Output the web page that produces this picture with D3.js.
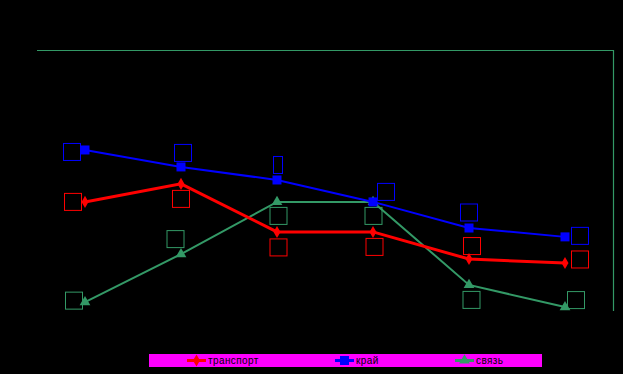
<!DOCTYPE html>
<html>
<head>
<meta charset="utf-8">
<script src="https://cdn.jsdelivr.net/npm/d3@7"></script>
<style>
  html, body { margin: 0; padding: 0; background: #000; }
  svg { display: block; }
</style>
</head>
<body>
<svg width="623" height="374"></svg>
<script>
// categories (not labelled on the chart)
const periods = ["1", "2", "3", "4", "5", "6"];

// series values (arbitrary 0..10 scale)
const transport = [4.18, 4.87, 3.03, 3.03, 1.99, 1.84];
const krai      = [6.17, 5.52, 5.02, 4.18, 3.18, 2.84];
const svyaz     = [0.34, 2.18, 4.18, 4.18, 1.00, 0.15];

const seriesNames = ["транспорт", "край", "связь"];

// label box offsets from each point (empty data label frames)
const labelOffsets = [
    [[-12, 0], [0, 15], [1.5, 15.5], [1.5, 15], [3, -13], [15, -3.5]],
    [[-13, 2], [2, -14], [1, -15], [13, -10], [0, -15.5], [15, -1]],
    [[-11, -1.5], [-5.5, -15], [1.5, 14], [0.5, 14], [2.5, 15], [11, -7]]
];

document.addEventListener("DOMContentLoaded", function() {
    const svg = d3.select("svg");
    const left = 37, right = 613, top = 50, bottom = 311;

    const x = d3.scaleBand().domain(periods).range([left, right]);
    const y = d3.scaleLinear().domain([0, 10]).range([bottom, top]);
    const cx = d => x(d) + x.bandwidth() / 2;

    const series = [
        { name: seriesNames[0], values: transport, color: "#ff0000", width: 3, symbol: d3.symbolDiamond, size: 42 },
        { name: seriesNames[1], values: krai, color: "#0000ff", width: 2, symbol: d3.symbolSquare, size: 81 },
        { name: seriesNames[2], values: svyaz, color: "#339966", width: 2, symbol: d3.symbolTriangle, size: 50 }
    ];

    // plot frame: only top and right edges are visible
    svg.append("path")
        .attr("d", `M${left},${top + 0.5}H${right + 0.5}V${bottom}`)
        .attr("fill", "none")
        .attr("stroke", "#339966")
        .attr("stroke-width", 1.2);

    const line = d3.line()
        .x((d, i) => cx(periods[i]))
        .y(d => y(d));

    // draw green first so red and blue sit on top like the original
    const order = [2, 0, 1];
    order.forEach(k => {
        const s = series[k];
        svg.append("path")
            .datum(s.values)
            .attr("d", line)
            .attr("fill", "none")
            .attr("stroke", s.color)
            .attr("stroke-width", s.width);

        svg.selectAll(null)
            .data(s.values)
            .enter()
            .append("path")
            .attr("transform", (d, i) => `translate(${cx(periods[i])},${y(d)})`)
            .attr("d", d3.symbol().type(s.symbol).size(s.size))
            .attr("fill", s.color);

        // empty label frames
        svg.selectAll(null)
            .data(s.values)
            .enter()
            .append("rect")
            .attr("x", (d, i) => {
                const w = (k === 1 && i === 2) ? 9 : 17;
                return cx(periods[i]) + labelOffsets[k][i][0] - w / 2;
            })
            .attr("y", (d, i) => y(d) + labelOffsets[k][i][1] - 8.5)
            .attr("width", (d, i) => (k === 1 && i === 2) ? 9 : 17)
            .attr("height", 17)
            .attr("fill", "none")
            .attr("stroke", s.color)
            .attr("stroke-width", 1);
    });

    // legend
    const legend = svg.append("g");
    legend.append("rect")
        .attr("x", 149).attr("y", 354)
        .attr("width", 393).attr("height", 13)
        .attr("fill", "#ff00ff");

    const legendX = [187, 335, 455];
    series.forEach((s, i) => {
        const g = legend.append("g").attr("transform", `translate(${legendX[i]},360.5)`);
        g.append("line")
            .attr("x1", 0).attr("x2", 19)
            .attr("stroke", s.color)
            .attr("stroke-width", 3);
        g.append("path")
            .attr("transform", "translate(9.5,0)")
            .attr("d", d3.symbol().type(s.symbol).size(s.size))
            .attr("fill", s.color);
        g.append("text")
            .attr("x", 21)
            .attr("y", 3.5)
            .attr("font-family", "Liberation Sans, Arial, sans-serif")
            .attr("font-size", 10)
            .attr("letter-spacing", 0.4)
            .attr("fill", "#000")
            .text(s.name);
    });
});
</script>
</body>
</html>
